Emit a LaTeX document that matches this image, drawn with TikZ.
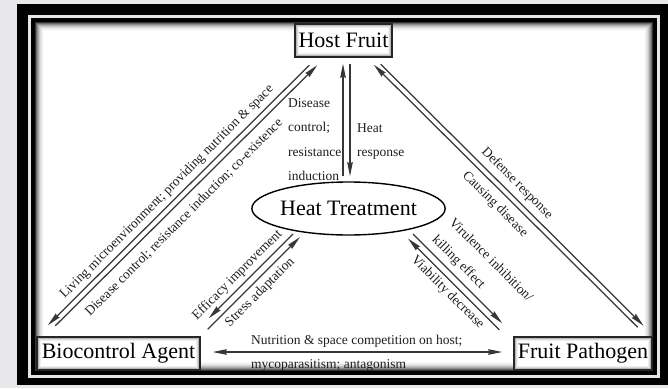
\documentclass[tikz,border=0pt]{standalone}
\usepackage{fontspec}
\setmainfont{Liberation Serif}
\usetikzlibrary{arrows.meta,shapes.geometric,calc}
\definecolor{bggray}{RGB}{232,231,233}
\definecolor{linegray}{RGB}{55,55,55}
\begin{document}
\begin{tikzpicture}[x=1pt,y=-1pt,
  mainbox/.style={draw=black!85, line width=1.4pt, fill=white, inner sep=0pt,
    minimum height=33pt, font=\fontsize{22}{26}\selectfont, boxshadow},
  boxshadow/.style={path picture={
    \foreach \i/\c in {1.5/28,2.5/14,3.5/6}{
      \draw[black!\c, line width=1pt]
        ([shift={(\i pt,-\i pt)}]path picture bounding box.north west) rectangle
        ([shift={(-\i pt,\i pt)}]path picture bounding box.south east);}}},
  tipstyle/.style={Stealth[length=14pt,width=5.5pt,inset=1pt]},
  arr/.style={draw=linegray, line width=1.25pt, -{Stealth[length=14pt,width=5.5pt,inset=1pt]}},
  darr/.style={draw=linegray, line width=1.25pt, {Stealth[length=14pt,width=5.5pt,inset=1pt]}-{Stealth[length=14pt,width=5.5pt,inset=1pt]}},
  lbl/.style={font=\fontsize{13.5}{24.3}\selectfont, inner sep=0pt, text=black!88}
]
% background and frame
\fill[bggray] (0,0) rectangle (668,388);
\useasboundingbox (0,0) rectangle (668,388);
\fill[black] (17,4) rectangle (668,385);
\fill[black!10] (28,15) rectangle (660,378);
\fill[black] (31,18) rectangle (657,375);
\fill[white] (35,22) rectangle (653,371);
\foreach \i/\c in {0.5/80,1.5/60,2.5/45,3.5/33,4.5/23,5.5/15,6.5/9,7.5/5,8.5/2}{
  \draw[black!\c, line width=1pt] (35+\i,22+\i) rectangle (653-\i,371-\i);
}

% nodes
\node[mainbox, minimum width=97pt] (hf) at (343.5,40.5) {Host Fruit};
\node[mainbox, minimum width=163pt] (bc) at (118.5,353.5) {Biocontrol Agent};
\node[mainbox, minimum width=138pt] (fp) at (583,353.5) {Fruit Pathogen};
\node[draw=black, ellipse, line width=1.4pt, minimum width=176pt, minimum height=53pt,
  inner sep=0pt, font=\fontsize{22}{26}\selectfont] (ht) at (348.5,208.5) {Heat Treatment};

% Host Fruit <-> Heat Treatment
\draw[arr] ([xshift=-5.5pt,yshift=5pt]ht.north) -- ([xshift=-0.5pt,yshift=-6pt]hf.south);
\draw[arr] ([xshift=6.5pt,yshift=-6pt]hf.south) -- ([xshift=1.5pt,yshift=5pt]ht.north);
\node[lbl, anchor=north west, align=left] (lhl) at (288,98.3) {Disease\\control;\\resistance\\induction};
\node[lbl, anchor=north west, align=left] (lhr) at (357,123.5) {Heat\\response};

% Host Fruit <-> Biocontrol Agent
\draw[arr] ([shift={(15pt,-7.5pt)}]hf.south west) -- ([shift={(11.5pt,11pt)}]bc.north west);
\draw[arr] ([shift={(19pt,10.5pt)}]bc.north west) -- ([shift={(23pt,-7.5pt)}]hf.south west);
\node[lbl, rotate=45] (la1) at (167,192) {Living microenvironment; providing nutrition \& space};
\node[lbl, rotate=45] (la2) at (184,217.5) {Disease control; resistance induction; co-existence};

% Heat Treatment <-> Biocontrol Agent
\draw[arr] ([shift={(-55.5pt,-25.5pt)}]ht.center) -- ([shift={(8pt,18pt)}]bc.north east);
\draw[arr] ([shift={(7pt,7pt)}]bc.north east) -- ([shift={(-48.5pt,-28.5pt)}]ht.center);
\node[lbl, rotate=45] (lb1) at (237.5,275) {Efficacy improvement};
\node[lbl, rotate=45] (lb2) at (260,292.5) {Stress adaptation};

% Host Fruit <-> Fruit Pathogen
\draw[arr] ([shift={(-12pt,-6.5pt)}]hf.south east) -- ([shift={(-9pt,10.5pt)}]fp.north east);
\draw[arr] ([shift={(-15pt,9pt)}]fp.north east) -- ([shift={(-19pt,-7pt)}]hf.south east);
\node[lbl, rotate=-45] (lc1) at (517,183.5) {Defense response};
\node[lbl, rotate=-45] (lc2) at (495,204.5) {Causing disease};

% Heat Treatment <-> Fruit Pathogen
\draw[arr] ([shift={(64.5pt,-25.5pt)}]ht.center) -- ([shift={(-11pt,13pt)}]fp.north west);
\draw[arr] ([shift={(-14pt,6.5pt)}]fp.north west) -- ([shift={(59.5pt,-30pt)}]ht.center);
\node[lbl, rotate=-45, align=left] (ld1) at (482,269) {Virulence inhibition/\\killing effect};
\node[lbl, rotate=-45] (ld2) at (447.5,292.5) {Viability decrease};

% Biocontrol Agent <-> Fruit Pathogen
\draw[darr] ([shift={(12pt,1.5pt)}]bc.east) -- ([shift={(-11pt,1.5pt)}]fp.west);
\node[lbl, anchor=west, align=left] (le) at (251,353) {Nutrition \& space competition on host;\\mycoparasitism; antagonism};
\end{tikzpicture}
\end{document}
